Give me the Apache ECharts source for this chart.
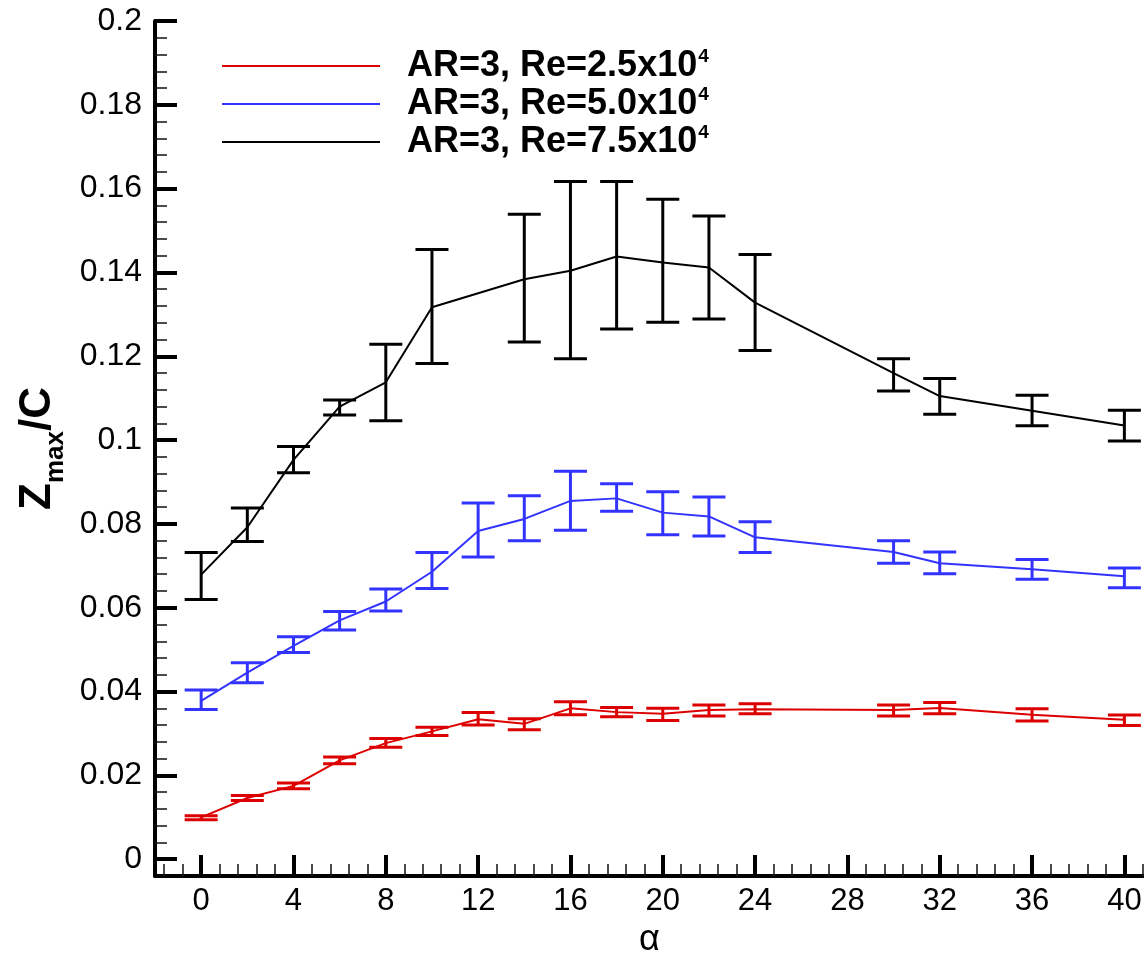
<!DOCTYPE html>
<html>
<head>
<meta charset="utf-8">
<script src="https://cdn.jsdelivr.net/npm/echarts@6/dist/echarts.min.js"></script>
<style>
html,body{margin:0;padding:0;background:#fff;}
#chart{width:1144px;height:953px;}
</style>
</head>
<body>
<div id="chart"></div>
<script>
// ---- data ----
const alphaRB = [0,2,4,6,8,10,12,14,16,18,20,22,24,30,32,36,40];
const redMean = [0.0100,0.0146,0.0175,0.0236,0.0277,0.0305,0.0334,0.0323,0.0360,0.0351,0.0347,0.0356,0.0358,0.0356,0.0361,0.0345,0.0333];
const redLow  = [0.0094,0.0140,0.0168,0.0228,0.0267,0.0295,0.0320,0.0309,0.0345,0.0340,0.0331,0.0342,0.0347,0.0342,0.0347,0.0330,0.0319];
const redHigh = [0.0104,0.0152,0.0182,0.0244,0.0288,0.0315,0.0350,0.0335,0.0376,0.0362,0.0360,0.0368,0.0371,0.0368,0.0374,0.0359,0.0344];

const blueMean = [0.0378,0.0445,0.0509,0.0570,0.0615,0.0686,0.0783,0.0812,0.0855,0.0861,0.0827,0.0818,0.0768,0.0733,0.0706,0.0692,0.0675];
const blueLow  = [0.0357,0.0421,0.0493,0.0547,0.0592,0.0646,0.0721,0.0760,0.0785,0.0830,0.0774,0.0771,0.0732,0.0706,0.0681,0.0668,0.0648];
const blueHigh = [0.0404,0.0469,0.0531,0.0591,0.0645,0.0732,0.0850,0.0867,0.0926,0.0896,0.0877,0.0864,0.0805,0.0760,0.0733,0.0715,0.0695];

const alphaK = [0,2,4,6,8,10,14,16,18,20,22,24,30,32,36,40];
const blackMean = [0.0679,0.0792,0.0953,0.1080,0.1138,0.1317,0.1384,0.1404,0.1438,0.1424,0.1412,0.1328,0.1160,0.1105,0.1070,0.1035];
const blackLow  = [0.0620,0.0758,0.0922,0.1060,0.1046,0.1183,0.1234,0.1194,0.1265,0.1281,0.1289,0.1214,0.1117,0.1062,0.1034,0.0998];
const blackHigh = [0.0732,0.0838,0.0985,0.1096,0.1229,0.1455,0.1539,0.1617,0.1617,0.1575,0.1535,0.1443,0.1194,0.1147,0.1107,0.1071];

const seriesNames = ['AR=3, Re=2.5x10', 'AR=3, Re=5.0x10', 'AR=3, Re=7.5x10'];
const xMajorTicks = [0,4,8,12,16,20,24,28,32,36,40];
const yMajorTicks = [0,0.02,0.04,0.06,0.08,0.1,0.12,0.14,0.16,0.18,0.2];
const yLabels = ['0','0.02','0.04','0.06','0.08','0.1','0.12','0.14','0.16','0.18','0.2'];

// ---- minor tick positions ----
const xMinor = [];
for (let i = -2; i <= 51; i++) { const v = Math.round(i*0.8*100)/100; if (i % 5 !== 0 && v <= 40.8) xMinor.push(v); }
const yMinor = [];
for (let i = 1; i < 50; i++) { if (i % 5 !== 0) yMinor.push(Math.round(i*0.004*10000)/10000); }

const FONT = '"Liberation Sans", Arial, Helvetica, sans-serif';
const colors = ['#dd0000', '#3333ff', '#000000'];

function pairs(xs, ys){ return xs.map((x,i)=>[x, ys[i]]); }
function triples(xs, lo, hi){ return xs.map((x,i)=>[x, lo[i], hi[i]]); }

function errRender(color){
  return function(params, api){
    const x = api.value(0), lo = api.value(1), hi = api.value(2);
    const a = api.coord([x, hi]), b = api.coord([x, lo]);
    const hw = 16.5;
    const st = {stroke: color, lineWidth: 3};
    return {type:'group', children:[
      {type:'line', shape:{x1:a[0], y1:a[1], x2:b[0], y2:b[1]}, style:st},
      {type:'line', shape:{x1:a[0]-hw, y1:a[1], x2:a[0]+hw, y2:a[1]}, style:st},
      {type:'line', shape:{x1:b[0]-hw, y1:b[1], x2:b[0]+hw, y2:b[1]}, style:st}
    ]};
  };
}

const chart = echarts.init(document.getElementById('chart'), null, {renderer:'canvas'});
const option = {
  animation:false,
  backgroundColor:'#fff',
  grid:{left:155, right:0, top:21, bottom:77, containLabel:false, outerBoundsMode:'none'},
  legend:{
    orient:'vertical', left:222, top:46, padding:0, itemGap:0,
    itemWidth:158, itemHeight:2, icon:'rect',
    data: seriesNames,
    formatter: function(name){ return '{b|' + name + '}{sup|4}'; },
    textStyle:{
      rich:{
        b:{fontFamily:FONT, fontWeight:'bold', fontSize:36, color:'#000', lineHeight:40, padding:[0,0,0,22]},
        sup:{fontFamily:FONT, fontWeight:'bold', fontSize:19, color:'#000', lineHeight:40, verticalAlign:'top', padding:[1,0,0,1]}
      }
    }
  },
  xAxis:[{
    type:'value', min:-2, max:40.85, position:'bottom',
    name:'α', nameLocation:'middle', nameGap:40,
    nameTextStyle:{fontFamily:FONT, fontSize:36, color:'#000'},
    axisLine:{show:true, onZero:false, lineStyle:{color:'#000', width:4}},
    axisTick:{show:true, inside:true, length:21, customValues:xMajorTicks, lineStyle:{color:'#000', width:4}},
    axisLabel:{show:true, customValues:xMajorTicks, margin:10, fontFamily:FONT, fontSize:31, color:'#000'},
    splitLine:{show:false}
  },{
    type:'value', min:-2, max:40.85, position:'bottom', offset:0,
    axisLine:{show:false, onZero:false},
    axisTick:{show:true, inside:true, length:12, customValues:xMinor, lineStyle:{color:'#111', width:1.5}},
    axisLabel:{show:false},
    splitLine:{show:false}
  }],
  yAxis:[{
    type:'value', min:-0.004, max:0.2, position:'left',
    name:'{z|Z}{s|max}{z|/C}', nameLocation:'middle', nameGap:90, nameRotate:90,
    nameTextStyle:{
      rich:{
        z:{fontFamily:FONT, fontWeight:'bold', fontSize:44, color:'#000', lineHeight:46, verticalAlign:'bottom'},
        s:{fontFamily:FONT, fontWeight:'bold', fontSize:26, color:'#000', lineHeight:46, verticalAlign:'bottom', padding:[0,0,-9,0]}
      }
    },
    axisLine:{show:true, onZero:false, lineStyle:{color:'#000', width:4}},
    axisTick:{show:true, inside:true, length:22, customValues:yMajorTicks, lineStyle:{color:'#000', width:4}},
    axisLabel:{show:true, customValues:yMajorTicks, margin:13, fontFamily:FONT, fontSize:32, color:'#000',
      formatter:function(v){ const i = yMajorTicks.findIndex(t=>Math.abs(t-v)<1e-9); return i>=0 ? yLabels[i] : ''; }},
    splitLine:{show:false}
  },{
    type:'value', min:-0.004, max:0.2, position:'left', offset:0,
    axisLine:{show:false, onZero:false},
    axisTick:{show:true, inside:true, length:12, customValues:yMinor, lineStyle:{color:'#111', width:1.5}},
    axisLabel:{show:false},
    splitLine:{show:false}
  }],
  series:[
    {name:seriesNames[0], type:'line', data:pairs(alphaRB, redMean), symbol:'none', lineStyle:{color:colors[0], width:2}, itemStyle:{color:colors[0]}, z:3},
    {name:seriesNames[1], type:'line', data:pairs(alphaRB, blueMean), symbol:'none', lineStyle:{color:colors[1], width:2}, itemStyle:{color:colors[1]}, z:3},
    {name:seriesNames[2], type:'line', data:pairs(alphaK, blackMean), symbol:'none', lineStyle:{color:colors[2], width:2}, itemStyle:{color:colors[2]}, z:3},
    {name:'errRed', type:'custom', renderItem:errRender(colors[0]), data:triples(alphaRB, redLow, redHigh), encode:{x:0, y:[1,2]}, z:4},
    {name:'errBlue', type:'custom', renderItem:errRender(colors[1]), data:triples(alphaRB, blueLow, blueHigh), encode:{x:0, y:[1,2]}, z:4},
    {name:'errBlack', type:'custom', renderItem:errRender(colors[2]), data:triples(alphaK, blackLow, blackHigh), encode:{x:0, y:[1,2]}, z:4}
  ]
};
chart.setOption(option);
</script>
</body>
</html>
